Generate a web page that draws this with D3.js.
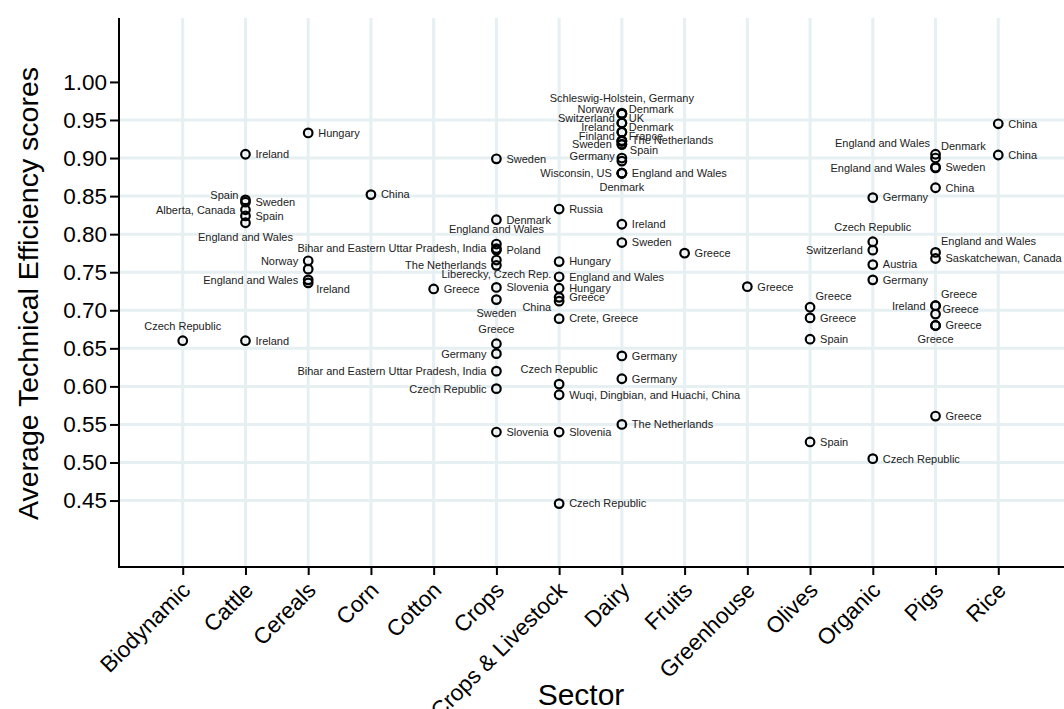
<!DOCTYPE html>
<html>
<head>
<meta charset="utf-8">
<script src="https://cdn.jsdelivr.net/npm/d3@7"></script>
<style>
  html, body { margin: 0; padding: 0; background: #fff; }
  svg { display: block; font-family: "Liberation Sans", Arial, sans-serif; }
</style>
</head>
<body>
<svg id="chart" width="1064" height="709"></svg>
<script>
// Sectors along the x axis
const sectors = ["Biodynamic", "Cattle", "Cereals", "Corn", "Cotton", "Crops",
  "Crops & Livestock", "Dairy", "Fruits", "Greenhouse", "Olives", "Organic", "Pigs", "Rice"];

// y axis tick labels
const yTicks = [0.45, 0.50, 0.55, 0.60, 0.65, 0.70, 0.75, 0.80, 0.85, 0.90, 0.95, 1.00];

// One entry per study: sector, average TE score, study region, label clock position
const studySector = [
  "Biodynamic",
  "Cattle", "Cattle", "Cattle", "Cattle", "Cattle", "Cattle", "Cattle",
  "Cereals", "Cereals", "Cereals", "Cereals", "Cereals",
  "Corn",
  "Cotton",
  "Crops", "Crops", "Crops", "Crops", "Crops", "Crops", "Crops", "Crops", "Crops", "Crops",
  "Crops", "Crops", "Crops", "Crops",
  "Crops & Livestock", "Crops & Livestock", "Crops & Livestock", "Crops & Livestock",
  "Crops & Livestock", "Crops & Livestock", "Crops & Livestock", "Crops & Livestock",
  "Crops & Livestock", "Crops & Livestock", "Crops & Livestock",
  "Dairy", "Dairy", "Dairy", "Dairy", "Dairy", "Dairy", "Dairy", "Dairy", "Dairy", "Dairy",
  "Dairy", "Dairy", "Dairy", "Dairy", "Dairy", "Dairy", "Dairy", "Dairy", "Dairy", "Dairy",
  "Dairy", "Dairy",
  "Fruits",
  "Greenhouse",
  "Olives", "Olives", "Olives", "Olives",
  "Organic", "Organic", "Organic", "Organic", "Organic", "Organic",
  "Pigs", "Pigs", "Pigs", "Pigs", "Pigs", "Pigs", "Pigs", "Pigs", "Pigs", "Pigs", "Pigs",
  "Pigs", "Pigs",
  "Rice", "Rice"
];

const studyScore = [
  0.660,
  0.905, 0.845, 0.842, 0.832, 0.824, 0.815, 0.660,
  0.933, 0.765, 0.754, 0.740, 0.736,
  0.852,
  0.728,
  0.899, 0.819, 0.787, 0.781, 0.779, 0.766, 0.759, 0.730, 0.714, 0.656,
  0.643, 0.620, 0.597, 0.540,
  0.833, 0.764, 0.744, 0.729,
  0.717, 0.712, 0.689, 0.603,
  0.589, 0.540, 0.446,
  0.959, 0.958, 0.958, 0.946, 0.946, 0.934, 0.934, 0.922, 0.922, 0.923,
  0.918, 0.918, 0.900, 0.896, 0.880, 0.880, 0.880, 0.813, 0.789, 0.640,
  0.610, 0.550,
  0.775,
  0.731,
  0.704, 0.690, 0.662, 0.527,
  0.848, 0.790, 0.779, 0.760, 0.740, 0.505,
  0.905, 0.900, 0.887, 0.888, 0.861, 0.776, 0.768, 0.706, 0.706, 0.695, 0.680,
  0.680, 0.561,
  0.945, 0.904
];

const studyRegion = [
  "Czech Republic",
  "Ireland", "Spain", "Sweden", "Alberta, Canada", "Spain", "England and Wales", "Ireland",
  "Hungary", "Norway", "", "England and Wales", "Ireland",
  "China",
  "Greece",
  "Sweden", "Denmark", "England and Wales", "Bihar and Eastern Uttar Pradesh, India", "Poland",
  "Liberecky, Czech Rep.", "The Netherlands", "Slovenia", "Sweden", "Greece",
  "Germany", "Bihar and Eastern Uttar Pradesh, India", "Czech Republic", "Slovenia",
  "Russia", "Hungary", "England and Wales", "Hungary",
  "Greece", "China", "Crete, Greece", "Czech Republic",
  "Wuqi, Dingbian, and Huachi, China", "Slovenia", "Czech Republic",
  "Schleswig-Holstein, Germany", "Norway", "Denmark", "Switzerland", "UK", "Ireland", "Denmark",
  "Finland", "France", "The Netherlands",
  "Sweden", "Spain", "", "Germany", "Wisconsin, US", "England and Wales", "Denmark", "Ireland",
  "Sweden", "Germany",
  "Germany", "The Netherlands",
  "Greece",
  "Greece",
  "Greece", "Greece", "Spain", "Spain",
  "Germany", "Czech Republic", "Switzerland", "Austria", "Germany", "Czech Republic",
  "England and Wales", "Denmark", "England and Wales", "Sweden", "China", "England and Wales",
  "Saskatchewan, Canada", "Greece", "Ireland", "Greece", "Greece",
  "Greece", "Greece",
  "China", "China"
];

const labelClock = [
  12,
  3, 10, 3, 9, 3, 6, 3,
  3, 9, 3, 9, 4,
  3,
  3,
  3, 3, 12, 9, 3, 6, 9, 3, 6, 12,
  9, 9, 9, 3,
  3, 3, 3, 3,
  3, 8, 3, 12,
  3, 3, 3,
  12, 10, 2, 10, 2, 10, 2, 10, 2, 3,
  9, 4, 3, 10, 9, 3, 6, 3, 3, 3,
  3, 3,
  3,
  3,
  1, 3, 3, 3,
  3, 12, 9, 3, 3, 3,
  11, 1, 9, 3, 3, 1, 3, 1, 9, 2, 3,
  6, 3,
  3, 3
];

const studies = studyScore.map((v, i) => ({
  sector: studySector[i], score: v, region: studyRegion[i], clock: labelClock[i]
}));

// ---- layout ----
const svg = d3.select("#chart");
const plot = { left: 119, right: 1064, top: 18, bottom: 567 };

const x = d3.scalePoint()
  .domain(sectors)
  .range([120, 1061])
  .padding(1);

const y = d3.scaleLinear()
  .domain([0.3627, 1.084])
  .range([plot.bottom, plot.top]);

const gridColor = "#e6eff2";

// grid lines (none at the top label)
svg.append("g")
  .selectAll("line")
  .data(yTicks.filter(t => t < 0.999))
  .join("line")
  .attr("x1", plot.left).attr("x2", plot.right)
  .attr("y1", d => y(d)).attr("y2", d => y(d))
  .attr("stroke", gridColor).attr("stroke-width", 3);

svg.append("g")
  .selectAll("line")
  .data(sectors)
  .join("line")
  .attr("x1", d => x(d)).attr("x2", d => x(d))
  .attr("y1", plot.top).attr("y2", plot.bottom)
  .attr("stroke", gridColor).attr("stroke-width", 3);

// axes
const yAxis = svg.append("g")
  .attr("transform", `translate(${plot.left},0)`)
  .call(d3.axisLeft(y).tickValues(yTicks).tickFormat(d3.format(".2f")).tickSize(9).tickPadding(3));
yAxis.select(".domain").remove();
yAxis.selectAll(".tick line").attr("stroke", "#000").attr("stroke-width", 2);
yAxis.selectAll(".tick text").attr("font-size", 22.5).attr("fill", "#000")
  .attr("font-family", "Liberation Sans, Arial, sans-serif");

const xAxis = svg.append("g")
  .attr("transform", `translate(0,${plot.bottom})`)
  .call(d3.axisBottom(x).tickSize(8));
xAxis.select(".domain").remove();
xAxis.selectAll(".tick line").attr("stroke", "#000").attr("stroke-width", 2);
xAxis.selectAll(".tick text")
  .attr("font-size", 22.5).attr("fill", "#000")
  .attr("font-family", "Liberation Sans, Arial, sans-serif")
  .attr("text-anchor", "end")
  .attr("x", 0).attr("y", 0).attr("dy", "0.35em")
  .attr("transform", "translate(3,19) rotate(-45)");

svg.append("line")
  .attr("x1", plot.left).attr("x2", plot.left)
  .attr("y1", plot.top).attr("y2", plot.bottom + 1)
  .attr("stroke", "#000").attr("stroke-width", 2);
svg.append("line")
  .attr("x1", plot.left - 1).attr("x2", plot.right)
  .attr("y1", plot.bottom).attr("y2", plot.bottom)
  .attr("stroke", "#000").attr("stroke-width", 2);

// axis titles
svg.append("text")
  .attr("transform", `translate(30,${(plot.top + plot.bottom) / 2 + 1}) rotate(-90)`)
  .attr("text-anchor", "middle")
  .attr("dominant-baseline", "middle")
  .attr("font-size", 28.5)
  .attr("fill", "#000")
  .text("Average Technical Efficiency scores");

svg.append("text")
  .attr("x", 581).attr("y", 705)
  .attr("text-anchor", "middle")
  .attr("font-size", 30)
  .attr("fill", "#000")
  .text("Sector");

// markers
svg.append("g")
  .selectAll("circle")
  .data(studies)
  .join("circle")
  .attr("cx", d => x(d.sector))
  .attr("cy", d => y(d.score))
  .attr("r", 4.3)
  .attr("fill", "none")
  .attr("stroke", "#000")
  .attr("stroke-width", 2.2);

// marker labels at clock positions
const clockOffset = {
  12: { dx: 0, dy: -14.5, anchor: "middle" },
  1:  { dx: 5.5, dy: -11.5, anchor: "start" },
  2:  { dx: 7, dy: -5, anchor: "start" },
  3:  { dx: 10, dy: 0, anchor: "start" },
  4:  { dx: 8, dy: 6, anchor: "start" },
  5:  { dx: 5.5, dy: 11.5, anchor: "start" },
  6:  { dx: 0, dy: 14, anchor: "middle" },
  7:  { dx: -5.5, dy: 11.5, anchor: "end" },
  8:  { dx: -8, dy: 6, anchor: "end" },
  9:  { dx: -10, dy: 0, anchor: "end" },
  10: { dx: -7, dy: -5, anchor: "end" },
  11: { dx: -5.5, dy: -11.5, anchor: "end" }
};

svg.append("g")
  .selectAll("text")
  .data(studies.filter(d => d.region !== ""))
  .join("text")
  .attr("x", d => x(d.sector) + clockOffset[d.clock].dx)
  .attr("y", d => y(d.score) + clockOffset[d.clock].dy)
  .attr("dy", "0.35em")
  .attr("text-anchor", d => clockOffset[d.clock].anchor)
  .attr("font-size", 11)
  .attr("fill", "#222")
  .text(d => d.region);
</script>
</body>
</html>
